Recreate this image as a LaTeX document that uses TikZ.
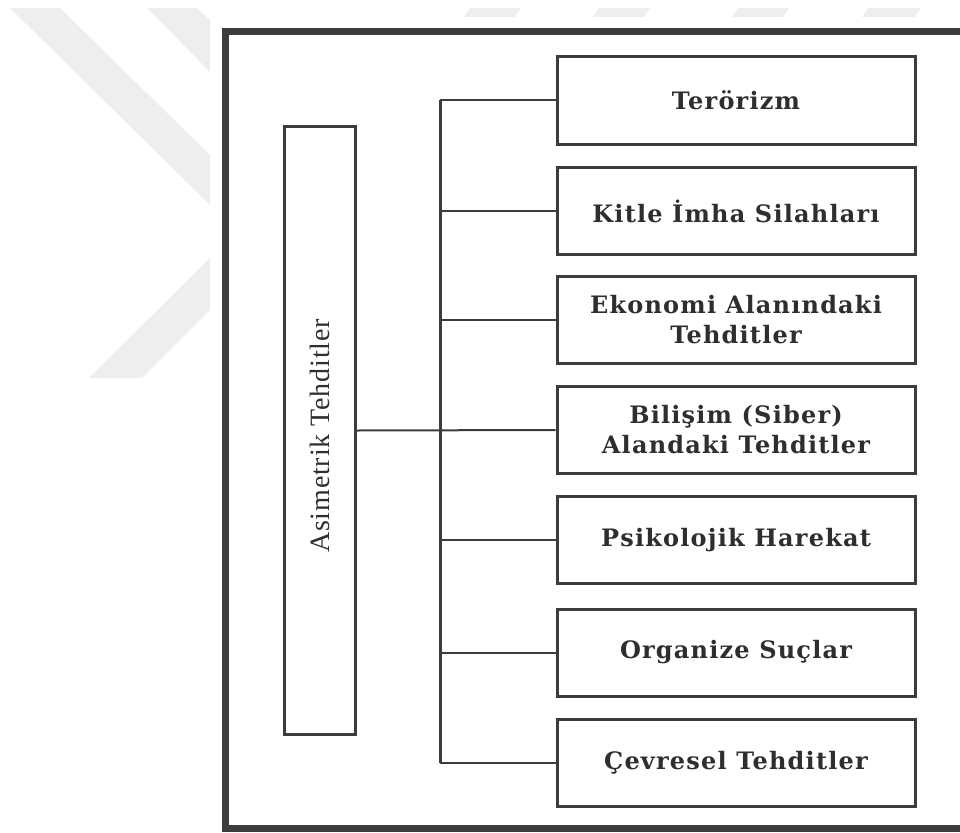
\documentclass[tikz,border=0pt]{standalone}
\usepackage{fontspec}
\setmainfont{DejaVu Serif}
\newfontfamily\itemfont[LetterSpace=5]{DejaVu Serif}
\newfontfamily\lblfont[LetterSpace=3]{Liberation Serif}
\definecolor{dk}{HTML}{3C3C3C}
\definecolor{txt}{HTML}{2E2E2E}
\definecolor{wm}{HTML}{EEEEEE}
\begin{document}
\begin{tikzpicture}[x=1pt,y=-1pt,
  framestyle/.style={draw=dk,line width=7pt},
  item/.style={draw=dk,line width=3pt,minimum width=358pt,minimum height=87pt,
    inner sep=0pt,align=center,text=txt,font=\itemfont\bfseries\fontsize{24}{30}\selectfont},
  mainbox/.style={draw=dk,line width=3pt,minimum width=71pt,minimum height=608pt,inner sep=0pt},
  bus/.style={draw=dk,line width=3pt},
  conn/.style={draw=dk,line width=2pt},
  wmark/.style={fill=wm,draw=none}]
\useasboundingbox (0,0) rectangle (960,832);
% watermark
\fill[wmark] (10,8) -- (60,8) -- (210,155) -- (210,205) -- cycle;
\fill[wmark] (147,8) -- (197,8) -- (210,20) -- (210,72) -- cycle;
\fill[wmark] (89,378) -- (142,378) -- (210,310) -- (210,258) -- cycle;
\foreach \a/\b in {464/521,593/650,732/789,862/921}
  \fill[wmark] (\a,17) -- (\a+6,8) -- (\b,8) -- (\b-6,17) -- cycle;
% outer frame
\draw[framestyle] (962,32) -- (225.5,32) -- (225.5,828.5) -- (962,828.5);
% main box
\node[mainbox] (lbox) at (320,430.5) {};
\node[rotate=90,text=txt,font=\lblfont\fontsize{28}{30}\selectfont] (ltxt) at (320,436) {Asimetrik Tehditler};
% items
\node[item] (b1) at (736,100.5) {Terörizm};
\node[item] (b2) at (736,211) {Kitle İmha Silahları};
\node[item] (b3) at (736,319.5) {Ekonomi Alanındaki\\Tehditler};
\node[item] (b4) at (736,430) {Bilişim (Siber)\\Alandaki Tehditler};
\node[item] (b5) at (736,540) {Psikolojik Harekat};
\node[item] (b6) at (736,652.5) {Organize Suçlar};
\node[item] (b7) at (736,763) {Çevresel Tehditler};
% bus
\coordinate (busx) at (440,0);
\draw[bus] (busx |- b1.west) -- (busx |- b7.west);
\foreach \n in {b1,b2,b3,b5,b6,b7}
  \draw[conn] (busx |- \n.west) -- (\n.west);
\draw[conn] (lbox.east) -- (b4.west);
\end{tikzpicture}
\end{document}
